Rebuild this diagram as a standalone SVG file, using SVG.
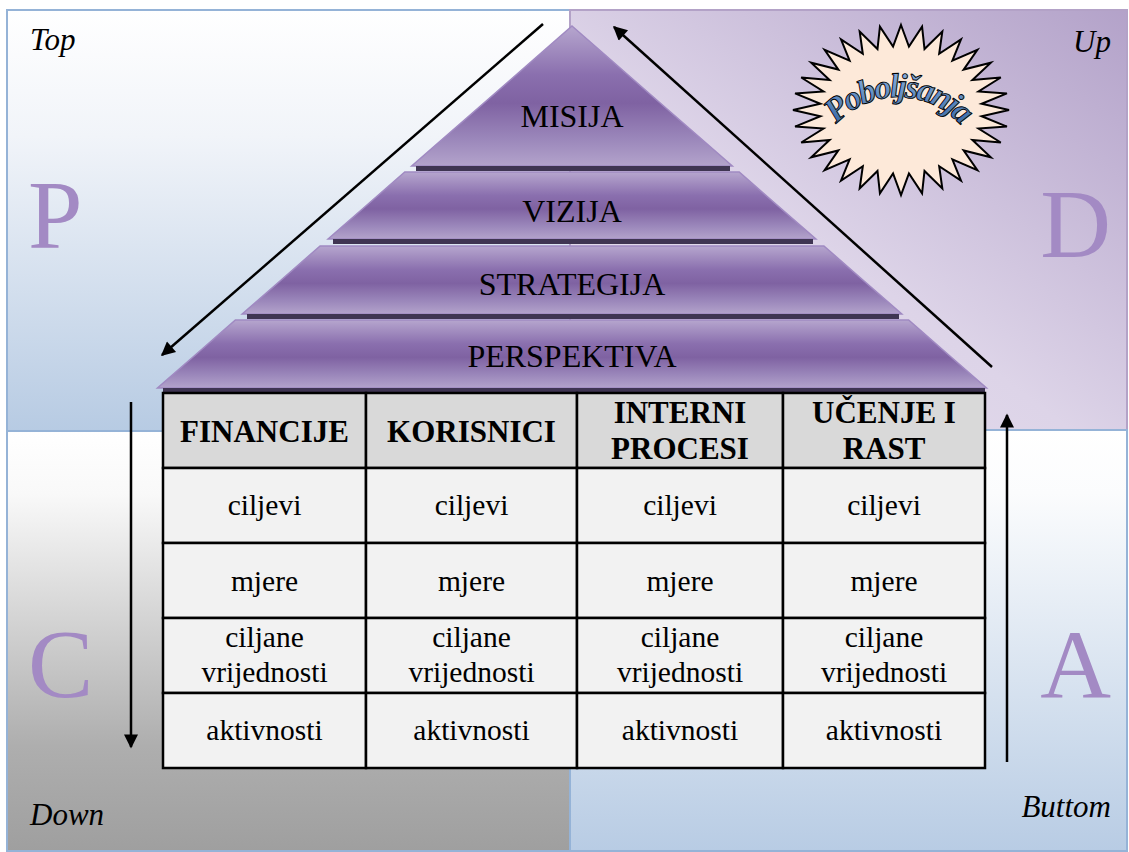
<svg xmlns="http://www.w3.org/2000/svg" width="1129" height="852" viewBox="0 0 1129 852" font-family="'Liberation Serif', 'Times New Roman', serif">
<style>
.corner{font-style:italic;font-size:31px;fill:#000}
.big{font-size:98px;fill:#a38ac4}
.lyr{font-size:32px;fill:#000;text-anchor:middle}
.hd{font-size:31px;font-weight:bold;fill:#000;text-anchor:middle}
.cell{font-size:29.5px;fill:#000;text-anchor:middle}
.layer{fill:url(#gLayer);stroke:#a08ac2;stroke-width:1.5}
.band{fill:#3f3552}
.arr{stroke:#000;stroke-width:2.5;fill:none;marker-end:url(#ah)}
.hc{fill:#d9d9d9;stroke:#000;stroke-width:2.5}
.bc{fill:#f2f2f2;stroke:#000;stroke-width:2.5}
</style>
<defs>
<linearGradient id="gTL" x1="0" y1="0" x2="0" y2="1">
<stop offset="0" stop-color="#ffffff"/><stop offset="0.3" stop-color="#f1f4f9"/><stop offset="1" stop-color="#b7cbe3"/>
</linearGradient>
<linearGradient id="gTR" x1="0" y1="1" x2="1" y2="0">
<stop offset="0" stop-color="#e6e0ee"/><stop offset="0.45" stop-color="#ddd4e8"/><stop offset="1" stop-color="#b3a2c9"/>
</linearGradient>
<linearGradient id="gBL" x1="0" y1="0" x2="0" y2="1">
<stop offset="0" stop-color="#ffffff"/><stop offset="0.15" stop-color="#f9f9f9"/><stop offset="0.75" stop-color="#aeaeae"/><stop offset="1" stop-color="#9f9f9f"/>
</linearGradient>
<linearGradient id="gBR" x1="0" y1="0" x2="0" y2="1">
<stop offset="0" stop-color="#ffffff"/><stop offset="0.15" stop-color="#fbfcfd"/><stop offset="1" stop-color="#b8cce4"/>
</linearGradient>
<linearGradient id="gLayer" x1="0" y1="0" x2="0" y2="1">
<stop offset="0" stop-color="#b6a6ce"/><stop offset="0.35" stop-color="#8a6fae"/><stop offset="0.55" stop-color="#7f62a2"/><stop offset="0.8" stop-color="#9a86ba"/><stop offset="1" stop-color="#b3a3cb"/>
</linearGradient>
<linearGradient id="gTxt" x1="0" y1="0" x2="0" y2="1">
<stop offset="0" stop-color="#8db3e2"/><stop offset="1" stop-color="#2f5f9e"/>
</linearGradient>
<marker id="ah" viewBox="0 0 10 10" refX="9" refY="5" markerWidth="19" markerHeight="14" markerUnits="userSpaceOnUse" orient="auto">
<path d="M0,0 L10,5 L0,10 z" fill="#000"/>
</marker>
<path id="arc" d="M825.3,139 A84,84 0 0 1 970.7,139"/>
</defs>

<g id="quadrants">
<rect x="7" y="10" width="563" height="421" fill="url(#gTL)" stroke="#95b3d7" stroke-width="2"/>
<rect x="570" y="10" width="557" height="420" fill="url(#gTR)" stroke="#b3a2c7" stroke-width="2"/>
<rect x="7" y="431" width="563" height="420" fill="url(#gBL)" stroke="#95b3d7" stroke-width="2"/>
<rect x="570" y="430" width="557" height="421" fill="url(#gBR)" stroke="#95b3d7" stroke-width="2"/>
</g>

<g id="corner-labels">
<text class="corner" x="30" y="50">Top</text>
<text class="corner" x="1111" y="52" text-anchor="end">Up</text>
<text class="corner" x="30" y="825">Down</text>
<text class="corner" x="1111" y="817" text-anchor="end">Buttom</text>
</g>

<g id="pdca-letters">
<text class="big" x="28" y="248">P</text>
<text class="big" x="1111" y="257" text-anchor="end">D</text>
<text class="big" x="28" y="697">C</text>
<text class="big" x="1111" y="697" text-anchor="end">A</text>
</g>

<g id="starburst">
<polygon transform="translate(901,110) scale(108,85)" fill="#fde9d9" stroke="#000" stroke-width="2" vector-effect="non-scaling-stroke" stroke-linejoin="miter" points="0,-1 0.0735,-0.7464 0.19509,-0.98079 0.2177,-0.7177 0.38268,-0.92388 0.3536,-0.6614 0.55557,-0.83147 0.4758,-0.5798 0.70711,-0.70711 0.5798,-0.4758 0.83147,-0.55557 0.6614,-0.3536 0.92388,-0.38268 0.7177,-0.2177 0.98079,-0.19509 0.7464,-0.0735 1,0 0.7464,0.0735 0.98079,0.19509 0.7177,0.2177 0.92388,0.38268 0.6614,0.3536 0.83147,0.55557 0.5798,0.4758 0.70711,0.70711 0.4758,0.5798 0.55557,0.83147 0.3536,0.6614 0.38268,0.92388 0.2177,0.7177 0.19509,0.98079 0.0735,0.7464 0,1 -0.0735,0.7464 -0.19509,0.98079 -0.2177,0.7177 -0.38268,0.92388 -0.3536,0.6614 -0.55557,0.83147 -0.4758,0.5798 -0.70711,0.70711 -0.5798,0.4758 -0.83147,0.55557 -0.6614,0.3536 -0.92388,0.38268 -0.7177,0.2177 -0.98079,0.19509 -0.7464,0.0735 -1,0 -0.7464,-0.0735 -0.98079,-0.19509 -0.7177,-0.2177 -0.92388,-0.38268 -0.6614,-0.3536 -0.83147,-0.55557 -0.5798,-0.4758 -0.70711,-0.70711 -0.4758,-0.5798 -0.55557,-0.83147 -0.3536,-0.6614 -0.38268,-0.92388 -0.2177,-0.7177 -0.19509,-0.98079 -0.0735,-0.7464"/>
<text font-style="italic" font-weight="bold" font-size="34" letter-spacing="-2.5" fill="url(#gTxt)" stroke="#000" stroke-width="0.9" text-anchor="middle"><textPath href="#arc" startOffset="50%">Poboljšanja</textPath></text>
</g>

<g id="pyramid">
<g id="layer-misija">
<polygon class="layer" points="572,26 732.3,166 411.7,166"/>
<rect class="band" x="416" y="166" width="314" height="5"/>
<text class="lyr" x="572" y="127">MISIJA</text>
</g>
<g id="layer-vizija">
<polygon class="layer" points="404.8,172 739.2,172 815.9,239 328.1,239"/>
<rect class="band" x="333" y="239" width="480" height="5"/>
<text class="lyr" x="572" y="222">VIZIJA</text>
</g>
<g id="layer-strategija">
<polygon class="layer" points="320.1,246 823.9,246 901.8,314 242.2,314"/>
<rect class="band" x="247" y="314" width="652" height="5"/>
<text class="lyr" x="572" y="295">STRATEGIJA</text>
</g>
<g id="layer-perspektiva">
<polygon class="layer" points="235.4,320 908.6,320 986.5,388 157.5,388"/>
<rect class="band" x="163" y="388" width="822" height="5"/>
<text class="lyr" x="572" y="367">PERSPEKTIVA</text>
</g>
</g>

<g id="table">
<g id="header">
<rect class="hc" x="163" y="393" width="203" height="75"/>
<rect class="hc" x="366" y="393" width="211" height="75"/>
<rect class="hc" x="577" y="393" width="206" height="75"/>
<rect class="hc" x="783" y="393" width="202" height="75"/>
<text class="hd" x="264.5" y="442">FINANCIJE</text>
<text class="hd" x="471.5" y="442">KORISNICI</text>
<text class="hd" x="680" y="423">INTERNI</text>
<text class="hd" x="680" y="459">PROCESI</text>
<text class="hd" x="884" y="423">UČENJE I</text>
<text class="hd" x="884" y="459">RAST</text>
</g>
<g id="row-ciljevi">
<rect class="bc" x="163" y="468" width="203" height="75"/>
<rect class="bc" x="366" y="468" width="211" height="75"/>
<rect class="bc" x="577" y="468" width="206" height="75"/>
<rect class="bc" x="783" y="468" width="202" height="75"/>
<text class="cell" x="264.5" y="515">ciljevi</text>
<text class="cell" x="471.5" y="515">ciljevi</text>
<text class="cell" x="680" y="515">ciljevi</text>
<text class="cell" x="884" y="515">ciljevi</text>
</g>
<g id="row-mjere">
<rect class="bc" x="163" y="543" width="203" height="75"/>
<rect class="bc" x="366" y="543" width="211" height="75"/>
<rect class="bc" x="577" y="543" width="206" height="75"/>
<rect class="bc" x="783" y="543" width="202" height="75"/>
<text class="cell" x="264.5" y="591">mjere</text>
<text class="cell" x="471.5" y="591">mjere</text>
<text class="cell" x="680" y="591">mjere</text>
<text class="cell" x="884" y="591">mjere</text>
</g>
<g id="row-ciljane">
<rect class="bc" x="163" y="618" width="203" height="75"/>
<rect class="bc" x="366" y="618" width="211" height="75"/>
<rect class="bc" x="577" y="618" width="206" height="75"/>
<rect class="bc" x="783" y="618" width="202" height="75"/>
<text class="cell" x="264.5" y="647">ciljane</text>
<text class="cell" x="264.5" y="682">vrijednosti</text>
<text class="cell" x="471.5" y="647">ciljane</text>
<text class="cell" x="471.5" y="682">vrijednosti</text>
<text class="cell" x="680" y="647">ciljane</text>
<text class="cell" x="680" y="682">vrijednosti</text>
<text class="cell" x="884" y="647">ciljane</text>
<text class="cell" x="884" y="682">vrijednosti</text>
</g>
<g id="row-aktivnosti">
<rect class="bc" x="163" y="693" width="203" height="75"/>
<rect class="bc" x="366" y="693" width="211" height="75"/>
<rect class="bc" x="577" y="693" width="206" height="75"/>
<rect class="bc" x="783" y="693" width="202" height="75"/>
<text class="cell" x="264.5" y="740">aktivnosti</text>
<text class="cell" x="471.5" y="740">aktivnosti</text>
<text class="cell" x="680" y="740">aktivnosti</text>
<text class="cell" x="884" y="740">aktivnosti</text>
</g>
</g>

<g id="connectors">
<line class="arr" x1="543" y1="24" x2="162" y2="355"/>
<line class="arr" x1="992" y1="367" x2="614" y2="27"/>
<line class="arr" x1="131" y1="402" x2="131" y2="747"/>
<line class="arr" x1="1007" y1="762" x2="1007" y2="415"/>
</g>
</svg>
